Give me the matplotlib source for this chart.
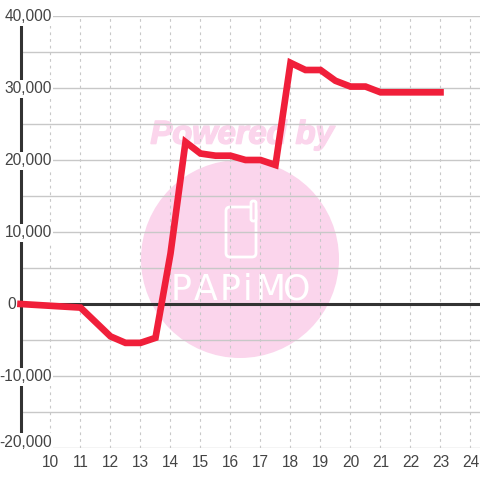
import matplotlib
matplotlib.use('Agg')
import matplotlib.pyplot as plt
import matplotlib.patheffects as pe
from matplotlib.patches import Circle, FancyBboxPatch

hours = [9, 11, 11.5, 12, 12.5, 13, 13.5, 14, 14.5, 15, 15.5, 16, 16.5, 17, 17.5,
         18, 18.5, 19, 19.5, 20, 20.5, 21, 21.5, 22, 22.5, 23]
values = [0, -500, -2500, -4500, -5400, -5400, -4700, 7000, 22500, 20900, 20600, 20600,
          20000, 20000, 19300, 33500, 32500, 32500, 31000, 30200, 30200, 29400,
          29400, 29400, 29400, 29400]
x_ticks = list(range(10, 25))
y_major = [40000, 30000, 20000, 10000, 0, -10000, -20000]
y_minor = [35000, 25000, 15000, 5000, -5000, -15000]
logo_letters = ['P', 'A', 'P', 'i', 'M', 'O']
logo_x = [181, 206, 230, 248, 271, 297]

plt.rcParams['font.family'] = ['Liberation Sans', 'DejaVu Sans']

fig = plt.figure(figsize=(4.8, 4.8), dpi=100)

# watermark sits under the chart, in pixel coords
bg = fig.add_axes([0, 0, 1, 1], zorder=0)
bg.set_xlim(0, 480)
bg.set_ylim(480, 0)
bg.axis('off')
pink = '#fbd5ec'
bg.add_patch(Circle((240, 259), 99, color=pink, lw=0))
bg.text(242, 135, 'Powered by', color=pink, fontsize=23.5, fontweight='bold',
        fontstyle='italic', ha='center', va='center',
        path_effects=[pe.withStroke(linewidth=1.2, foreground=pink)])
bg.add_patch(FancyBboxPatch((226, 207), 30, 50, boxstyle='round,pad=0,rounding_size=4',
                            fc='none', ec='white', lw=2))
bg.add_patch(FancyBboxPatch((251, 201), 5, 20, boxstyle='round,pad=0,rounding_size=2',
                            fc=pink, ec='white', lw=2))
for letter, lx in zip(logo_letters, logo_x):
    bg.text(lx, 290, letter, color='white', fontsize=25, ha='center', va='center',
            fontfamily=['Liberation Sans Narrow', 'DejaVu Sans'])

ax = fig.add_axes([20.5 / 480, 32 / 480, 459.5 / 480, 432 / 480], zorder=1)
ax.patch.set_alpha(0)
ax.set_xlim(9, 24.317)
ax.set_ylim(-20000, 40000)
for name in ['top', 'right', 'bottom']:
    ax.spines[name].set_visible(False)
ax.spines['left'].set_linewidth(2.2)
ax.spines['left'].set_color('#333333')

ax.set_xticks(x_ticks)
ax.set_yticks(y_major)
ax.set_yticks(y_minor, minor=True)
ax.set_axisbelow(True)
ax.grid(True, axis='y', which='both', color='#c8c8c8', lw=1.0)
ax.grid(True, axis='x', color='#c8c8c8', lw=0.8, linestyle=(0, (2.5, 3.5)))
ax.tick_params(axis='both', which='both', length=0)
ax.tick_params(axis='y', labelleft=False)
ax.tick_params(axis='x', labelsize=11.2, labelcolor='#444444', pad=5)

ax.axhline(0, color='#333333', lw=2.2, zorder=3)
ax.plot(hours, values, color='#f01f3a', lw=4.8, solid_capstyle='projecting',
        solid_joinstyle='miter', zorder=6, clip_on=False)

for val in y_major:
    ypos = 900 if val == -20000 else 0  # bottom label is pushed up into the plot
    xpos = -0.009 if val == 0 else 0.0686  # the 0 label sits left of the axis line
    ax.text(xpos, val + ypos - 100, f'{val:,}', transform=ax.get_yaxis_transform(),
            ha='right', va='center', fontsize=11.2, color='#444444', zorder=5,
            bbox=dict(fc='white', ec='none', pad=1.0), clip_on=False)

fig.savefig('out.png', dpi=100)
